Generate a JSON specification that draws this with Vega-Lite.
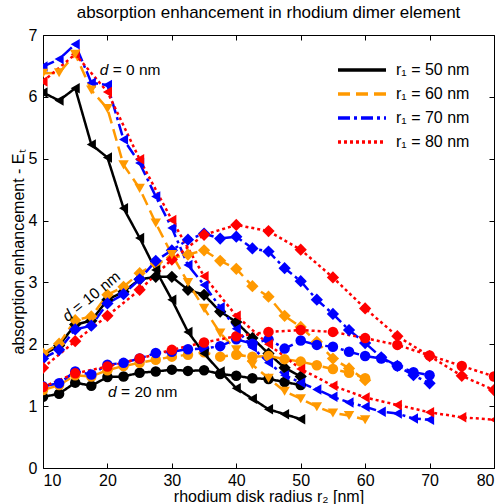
{
  "$schema": "https://vega.github.io/schema/vega-lite/v6.json",
  "width": 451,
  "height": 433,
  "autosize": "none",
  "padding": {"left": 43, "top": 35, "right": 8, "bottom": 36},
  "background": "white",
  "title": {"text": "absorption enhancement in rhodium dimer element", "fontSize": 17, "fontWeight": "normal", "font": "Liberation Sans", "color": "black", "offset": 5, "anchor": "middle"},
  "config": {
    "view": {"stroke": "black", "strokeWidth": 1},
    "font": "Liberation Sans",
    "axis": {"grid": false, "domain": false, "tickColor": "black", "tickSize": -5, "labelColor": "black", "labelFont": "Liberation Sans", "labelFontSize": 16, "titleFont": "Liberation Sans", "titleFontSize": 16, "titleFontWeight": "normal", "titleColor": "black"}
  },
  "datasets": {
    "series": [
      {"r1": "50", "d": 0, "x": [10,12.5,15,17.5,20,22.5,25,27.5,30,32.5,35,37.5,40,42.5,45,47.5,50], "y": [6.07,5.94,6.14,5.23,5.02,4.2,3.72,3.2,2.72,2.2,1.85,1.56,1.29,1.12,0.95,0.87,0.79]},
      {"r1": "50", "d": 10, "x": [10,12.5,15,17.5,20,22.5,25,27.5,30,32.5,35,37.5,40,42.5,45,47.5,50], "y": [1.83,1.98,2.32,2.38,2.72,2.85,3.05,3.09,3.09,2.88,2.8,2.53,2.36,2.1,1.85,1.62,1.48]},
      {"r1": "50", "d": 20, "x": [10,12.5,15,17.5,20,22.5,25,27.5,30,32.5,35,37.5,40,42.5,45,47.5,50], "y": [1.15,1.2,1.38,1.33,1.47,1.48,1.54,1.56,1.59,1.57,1.58,1.52,1.49,1.45,1.44,1.39,1.34]},
      {"r1": "60", "d": 0, "x": [10,12.5,15,17.5,20,22.5,25,27.5,30,32.5,35,37.5,40,42.5,45,47.5,50,52.5,55,57.5,60], "y": [6.38,6.39,6.69,6.11,5.81,4.9,4.52,3.96,3.45,3.0,2.58,2.18,1.91,1.67,1.45,1.24,1.12,0.99,0.89,0.85,0.78]},
      {"r1": "60", "d": 10, "x": [10,12.5,15,17.5,20,22.5,25,27.5,30,32.5,35,37.5,40,42.5,45,47.5,50,52.5,55,57.5,60], "y": [1.85,2.01,2.39,2.45,2.8,2.93,3.15,3.3,3.4,3.45,3.52,3.35,3.22,2.94,2.77,2.46,2.28,2.04,1.77,1.61,1.42]},
      {"r1": "60", "d": 20, "x": [10,12.5,15,17.5,20,22.5,25,27.5,30,32.5,35,37.5,40,42.5,45,47.5,50,52.5,55,57.5,60], "y": [1.26,1.34,1.5,1.48,1.58,1.65,1.7,1.75,1.8,1.83,1.87,1.8,1.83,1.8,1.81,1.76,1.72,1.66,1.6,1.54,1.45]},
      {"r1": "70", "d": 0, "x": [10,12.5,15,17.5,20,22.5,25,27.5,30,32.5,35,37.5,40,42.5,45,47.5,50,52.5,55,57.5,60,62.5,65,67.5,70], "y": [6.49,6.61,6.85,6.23,6.19,5.31,4.93,4.39,3.88,3.28,2.96,2.6,2.25,1.95,1.7,1.5,1.38,1.27,1.15,1.06,0.99,0.91,0.88,0.8,0.78]},
      {"r1": "70", "d": 10, "x": [10,12.5,15,17.5,20,22.5,25,27.5,30,32.5,35,37.5,40,42.5,45,47.5,50,52.5,55,57.5,60,62.5,65,67.5,70], "y": [1.77,1.91,2.24,2.3,2.66,2.81,3.05,3.35,3.52,3.69,3.79,3.71,3.74,3.55,3.5,3.23,3.02,2.72,2.49,2.23,2.02,1.79,1.65,1.5,1.37]},
      {"r1": "70", "d": 20, "x": [10,12.5,15,17.5,20,22.5,25,27.5,30,32.5,35,37.5,40,42.5,45,47.5,50,52.5,55,57.5,60,62.5,65,67.5,70], "y": [1.32,1.37,1.56,1.51,1.67,1.7,1.77,1.86,1.88,1.92,1.93,1.97,2.08,2.01,2.08,1.93,2.06,1.99,1.96,1.88,1.81,1.77,1.65,1.55,1.5]},
      {"r1": "80", "d": 0, "x": [10,15,20,25,30,35,40,45,50,55,60,65,70,75,80], "y": [6.25,6.69,6.08,4.99,4.01,3.1,2.46,2.0,1.6,1.33,1.14,1.02,0.9,0.82,0.78]},
      {"r1": "80", "d": 10, "x": [10,15,20,25,30,35,40,45,50,55,60,65,70,75,80], "y": [1.62,2.05,2.46,2.88,3.37,3.77,3.93,3.83,3.53,3.08,2.58,2.13,1.81,1.49,1.26]},
      {"r1": "80", "d": 20, "x": [10,15,20,25,30,35,40,45,50,55,60,65,70,75,80], "y": [1.31,1.53,1.64,1.77,1.91,2.03,2.13,2.2,2.23,2.2,2.1,1.99,1.82,1.65,1.48]}
    ],
    "notes": [
      {"x": 18.8, "y": 6.43, "a": "d", "b": "= 0 nm"},
      {"x": 20.1, "y": 1.23, "a": "d", "b": "= 20 nm"}
    ],
    "rot": [
      {"x": 13.3, "y": 2.42, "a": "d", "b": "= 10 nm"}
    ]
  },
  "data": {"name": "series"},
  "transform": [{"flatten": ["x", "y"]}],
  "layer": [
    {
      "mark": {"type": "line", "clip": true, "strokeWidth": 2.5},
      "encoding": {
        "x": {"field": "x", "type": "quantitative", "scale": {"domain": [10, 80], "nice": false}, "axis": {"orient": "bottom", "values": [10,20,30,40,50,60,70,80], "title": "rhodium disk radius r₂ [nm]", "labelPadding": 9, "titlePadding": 0}},
        "y": {"field": "y", "type": "quantitative", "scale": {"domain": [0, 7], "nice": false}, "axis": {"orient": "left", "values": [0,1,2,3,4,5,6,7], "title": "absorption enhancement - Eₜ", "labelPadding": 11, "titlePadding": 2}},
        "color": {"field": "r1", "type": "nominal", "scale": {"domain": ["50","60","70","80"], "range": ["#000000","#FF9900","#0000FF","#FF0000"]},
          "legend": {"orient": "none", "legendX": 293, "legendY": 25, "title": null, "symbolType": "stroke", "symbolSize": 2304, "symbolStrokeWidth": 3.5, "clipHeight": 20, "labelFontSize": 16, "labelFont": "Liberation Sans", "labelColor": "black", "labelExpr": "'r₁ = ' + datum.label + ' nm'", "rowPadding": 4, "labelOffset": 8}},
        "strokeDash": {"field": "r1", "type": "nominal", "scale": {"domain": ["50","60","70","80"], "range": [[1,0],[12,6],[12,4,3,4],[3,3]]}},
        "detail": {"field": "d"},
        "order": {"field": "x", "type": "quantitative"}
      }
    },
    {
      "transform": [{"filter": "datum.d == 10"}],
      "mark": {"type": "point", "shape": "diamond", "filled": true, "opacity": 1, "size": 150, "strokeWidth": 0, "clip": true},
      "encoding": {
        "x": {"field": "x", "type": "quantitative", "axis": {"orient": "top", "values": [10,20,30,40,50,60,70,80], "labels": false, "title": null}},
        "y": {"field": "y", "type": "quantitative", "axis": {"orient": "right", "values": [0,1,2,3,4,5,6,7], "labels": false, "title": null}},
        "color": {"field": "r1", "type": "nominal", "legend": null}
      }
    },
    {
      "transform": [{"filter": "datum.d == 20"}],
      "mark": {"type": "point", "shape": "circle", "filled": true, "opacity": 1, "size": 110, "strokeWidth": 0, "clip": true},
      "encoding": {
        "x": {"field": "x", "type": "quantitative", "axis": null},
        "y": {"field": "y", "type": "quantitative", "axis": null},
        "color": {"field": "r1", "type": "nominal", "legend": null}
      }
    },
    {
      "transform": [{"filter": "datum.d == 0 && datum.r1 != '60'"}],
      "mark": {"type": "point", "shape": "triangle-left", "filled": true, "opacity": 1, "size": 110, "strokeWidth": 0, "clip": true},
      "encoding": {
        "x": {"field": "x", "type": "quantitative", "axis": null},
        "y": {"field": "y", "type": "quantitative", "axis": null},
        "color": {"field": "r1", "type": "nominal", "legend": null}
      }
    },
    {
      "transform": [{"filter": "datum.d == 0 && datum.r1 == '60'"}],
      "mark": {"type": "point", "shape": "triangle-down", "filled": true, "opacity": 1, "size": 110, "strokeWidth": 0, "clip": true},
      "encoding": {
        "x": {"field": "x", "type": "quantitative", "axis": null},
        "y": {"field": "y", "type": "quantitative", "axis": null},
        "color": {"field": "r1", "type": "nominal", "legend": null}
      }
    },
    {
      "data": {"name": "notes"},
      "mark": {"type": "text", "align": "left", "baseline": "middle", "fontSize": 15.5, "fontStyle": "italic", "font": "Liberation Sans", "color": "black"},
      "encoding": {
        "x": {"field": "x", "type": "quantitative", "axis": null},
        "y": {"field": "y", "type": "quantitative", "axis": null},
        "text": {"field": "a"}
      }
    },
    {
      "data": {"name": "notes"},
      "mark": {"type": "text", "align": "left", "baseline": "middle", "fontSize": 15.5, "font": "Liberation Sans", "color": "black", "dx": 13},
      "encoding": {
        "x": {"field": "x", "type": "quantitative", "axis": null},
        "y": {"field": "y", "type": "quantitative", "axis": null},
        "text": {"field": "b"}
      }
    },
    {
      "data": {"name": "rot"},
      "mark": {"type": "text", "align": "left", "baseline": "middle", "fontSize": 15.5, "fontStyle": "italic", "font": "Liberation Sans", "color": "black", "angle": 321},
      "encoding": {
        "x": {"field": "x", "type": "quantitative", "axis": null},
        "y": {"field": "y", "type": "quantitative", "axis": null},
        "text": {"field": "a"}
      }
    },
    {
      "data": {"name": "rot"},
      "mark": {"type": "text", "align": "left", "baseline": "middle", "fontSize": 15.5, "font": "Liberation Sans", "color": "black", "angle": 321, "dx": 13},
      "encoding": {
        "x": {"field": "x", "type": "quantitative", "axis": null},
        "y": {"field": "y", "type": "quantitative", "axis": null},
        "text": {"field": "b"}
      }
    }
  ],
  "resolve": {"axis": {"x": "independent", "y": "independent"}}
}
